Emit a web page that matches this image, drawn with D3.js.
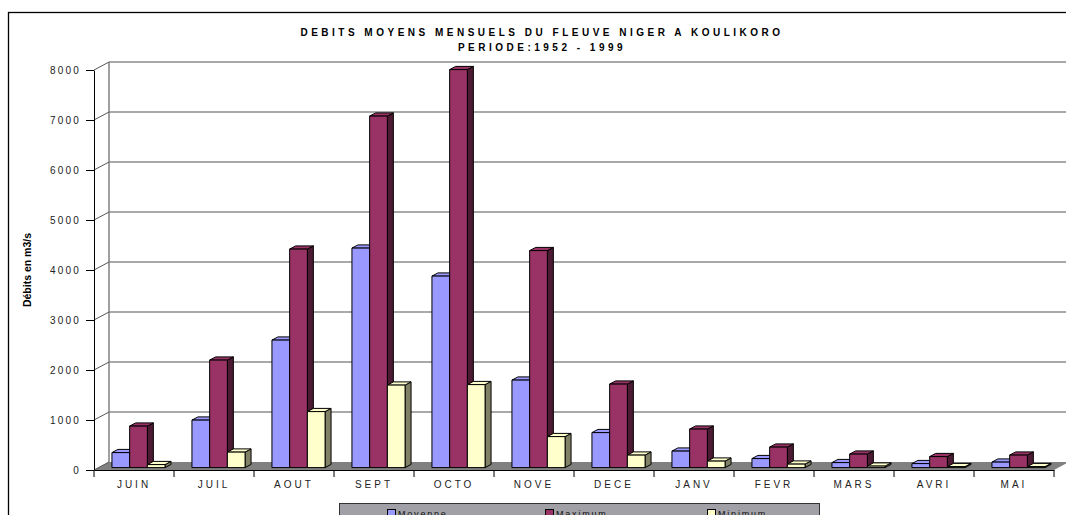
<!DOCTYPE html>
<html lang="fr">
<head>
<meta charset="utf-8">
<title>Debits moyens mensuels du fleuve Niger a Koulikoro</title>
<script src="https://d3js.org/d3.v7.min.js"></script>
<style>
body { margin: 0; background: #fff; }
text { font-family: "Liberation Sans", Arial, sans-serif; }
</style>
</head>
<body>
<script>

// data (m3/s)
var months = ["JUIN", "JUIL", "AOUT", "SEPT", "OCTO", "NOVE", "DECE", "JANV", "FEVR", "MARS", "AVRI", "MAI"];
var moyenne = [300, 950, 2550, 4390, 3830, 1750, 700, 330, 180, 100, 80, 110];
var maximum = [830, 2150, 4370, 7030, 7960, 4340, 1670, 770, 410, 270, 220, 250];
var minimum = [60, 310, 1120, 1650, 1660, 620, 250, 130, 70, 30, 20, 20];
var seriesNames = ["Moyenne", "Maximum", "Minimum"];
var yTicks = [0, 1000, 2000, 3000, 4000, 5000, 6000, 7000, 8000];

var colors = ["#9999ff", "#993366", "#ffffcc"];
var sideColors = ["#4d4d80", "#4d1a33", "#808066"];

var W = 1066, H = 515;
var depthX = 15, depthY = 8;   // offset of the back wall

var svg = d3.select("body").append("svg")
  .attr("width", W)
  .attr("height", H);

// outer frame
svg.append("rect")
  .attr("x", 8.5).attr("y", 12.5)
  .attr("width", W).attr("height", H)
  .attr("fill", "#fff").attr("stroke", "#000").attr("stroke-width", 1.3);

var x = d3.scaleBand().domain(months).range([94, 1054]);
var y = d3.scaleLinear().domain([0, 8000]).range([470, 70]);

// project a point (screen x at front, value, depth 0..1)
function px(xx, d) { return xx + d * depthX; }
function py(v, d) { return y(v) - d * depthY; }

// floor
svg.append("polygon")
  .attr("points", [[94, 470], [1054, 470], [1054 + depthX, 470 - depthY], [94 + depthX, 470 - depthY]].join(" "))
  .attr("fill", "#808080");

// back wall gridlines
svg.selectAll(".grid")
  .data(yTicks.slice(1))
  .enter().append("line")
  .attr("x1", px(94, 1)).attr("x2", W)
  .attr("y1", function(d) { return py(d, 1); })
  .attr("y2", function(d) { return py(d, 1); })
  .attr("stroke", "#555").attr("stroke-width", 1.2);

// back wall left edge
svg.append("line")
  .attr("x1", px(94, 1)).attr("x2", px(94, 1))
  .attr("y1", py(0, 1)).attr("y2", py(8000, 1))
  .attr("stroke", "#808080").attr("stroke-width", 1.5);

// side wall diagonals
svg.selectAll(".diag")
  .data(yTicks)
  .enter().append("line")
  .attr("x1", 94).attr("x2", px(94, 1))
  .attr("y1", function(d) { return y(d); })
  .attr("y2", function(d) { return py(d, 1); })
  .attr("stroke", "#555").attr("stroke-width", 1);

// y axis
var yAxis = d3.axisLeft(y).tickValues(yTicks).tickFormat(d3.format("d"))
  .tickSize(8).tickPadding(5).tickSizeOuter(0);
var gy = svg.append("g").attr("transform", "translate(94,0)").call(yAxis);
gy.select(".domain").attr("stroke", "#000");
gy.selectAll(".tick line").attr("stroke", "#000");
gy.selectAll("text")
  .attr("font-size", 10).attr("fill", "#222")
  .style("letter-spacing", "2.2px");

// x axis
var xAxis = d3.axisBottom(x).tickSize(0).tickPadding(11).tickSizeOuter(0);
var gx = svg.append("g").attr("transform", "translate(0,470)").call(xAxis);
gx.select(".domain").attr("stroke", "#000");
gx.selectAll("text")
  .attr("font-size", 10).attr("fill", "#222")
  .style("letter-spacing", "3px");
gx.selectAll(".sep")
  .data(d3.range(months.length + 1))
  .enter().append("line")
  .attr("x1", function(i) { return 94 + i * x.bandwidth(); })
  .attr("x2", function(i) { return 94 + i * x.bandwidth(); })
  .attr("y1", 0).attr("y2", 7)
  .attr("stroke", "#000");

// 3D bars
var values = [moyenne, maximum, minimum];
var barW = 17.7, d0 = 0.3, d1 = 0.7;
var bars = [];
months.forEach(function(m, i) {
  values.forEach(function(s, k) {
    bars.push({ m: m, k: k, v: s[i] });
  });
});

var gb = svg.append("g");
bars.forEach(function(b) {
  var x0 = x(b.m) + (x.bandwidth() - 3 * barW) / 2 + b.k * barW;
  var x1 = x0 + barW;
  var g = gb.append("g").attr("stroke", "#000").attr("stroke-width", 1).attr("stroke-linejoin", "round");
  // right side
  g.append("polygon")
    .attr("points", [[px(x1, d0), py(0, d0)], [px(x1, d1), py(0, d1)], [px(x1, d1), py(b.v, d1)], [px(x1, d0), py(b.v, d0)]].join(" "))
    .attr("fill", sideColors[b.k]);
  // top
  g.append("polygon")
    .attr("points", [[px(x0, d0), py(b.v, d0)], [px(x1, d0), py(b.v, d0)], [px(x1, d1), py(b.v, d1)], [px(x0, d1), py(b.v, d1)]].join(" "))
    .attr("fill", colors[b.k]);
  // front
  g.append("polygon")
    .attr("points", [[px(x0, d0), py(0, d0)], [px(x1, d0), py(0, d0)], [px(x1, d0), py(b.v, d0)], [px(x0, d0), py(b.v, d0)]].join(" "))
    .attr("fill", colors[b.k]);
});

// title
var title = svg.append("text")
  .attr("text-anchor", "middle")
  .attr("font-size", 10).attr("font-weight", "bold")
  .style("letter-spacing", "3.5px");
title.append("tspan").attr("x", 542).attr("y", 36).text("DEBITS MOYENS MENSUELS DU FLEUVE NIGER A KOULIKORO");
title.append("tspan").attr("x", 542).attr("y", 51).text("PERIODE:1952 - 1999");

// y axis title
svg.append("text")
  .attr("transform", "translate(31,270) rotate(-90)")
  .attr("text-anchor", "middle")
  .attr("font-size", 10.5).attr("font-weight", "bold")
  .text("Débits en m3/s");

// legend (cut by the bottom edge, as in the original)
var lg = svg.append("g").attr("transform", "translate(339,503)");
lg.append("rect")
  .attr("x", 0.5).attr("y", 0.5).attr("width", 480).attr("height", 30)
  .attr("fill", "#a0a0a6").attr("stroke", "#333");
var legX = [48, 206, 368];
seriesNames.forEach(function(n, k) {
  lg.append("rect")
    .attr("x", legX[k] + 0.5).attr("y", 6.5).attr("width", 8).attr("height", 8)
    .attr("fill", colors[k]).attr("stroke", "#000");
  lg.append("text")
    .attr("x", legX[k] + 11).attr("y", 14)
    .attr("font-size", 9).attr("fill", "#111")
    .style("letter-spacing", "1.8px")
    .text(n);
});

</script>
</body>
</html>
